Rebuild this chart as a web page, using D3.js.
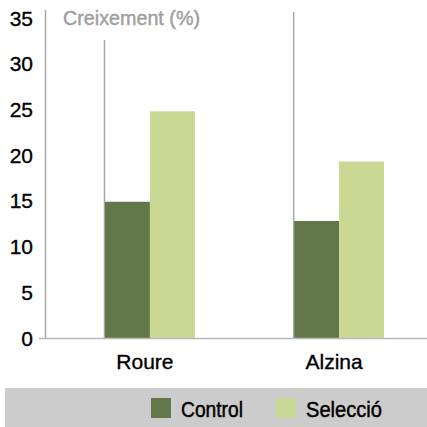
<!DOCTYPE html>
<html>
<head>
<meta charset="utf-8">
<script src="https://cdn.jsdelivr.net/npm/d3@7"></script>
<style>
  html, body { margin: 0; padding: 0; background: #fff; }
  svg { display: block; }
  .num { font-family: "Liberation Sans", Arial, sans-serif; font-size: 21px; fill: #000; stroke: #000; stroke-width: 0.35px; }
  .cond { font-family: "Liberation Sans Narrow", "Liberation Sans", sans-serif; stroke-width: 0.45px; }
</style>
</head>
<body>
<script>
// Chart data
const categories = ['Roure', 'Alzina'];
const seriesNames = ['Control', 'Selecció'];
const controlValues = [14.9, 12.8];
const seleccioValues = [24.8, 19.3];
const yTicks = [0, 5, 10, 15, 20, 25, 30, 35];
const colors = ['#62784a', '#c9d994'];

document.addEventListener('DOMContentLoaded', () => {
  drawChart();
});

const drawChart = () => {
  const width = 427, height = 427;
  const svg = d3.select('body').append('svg')
    .attr('width', width).attr('height', height);

  const yScale = d3.scaleLinear().domain([0, 35]).range([338, 18]);

  const xScale = d3.scaleBand()
    .domain(categories)
    .range([104, 383])
    .paddingInner(0.525)
    .paddingOuter(0);

  const xInner = d3.scaleBand()
    .domain(seriesNames)
    .range([0, xScale.bandwidth()]);

  // left axis line
  svg.append('line')
    .attr('x1', 45.5).attr('x2', 45.5)
    .attr('y1', 10).attr('y2', yScale(0))
    .attr('stroke', '#a8a8a8').attr('stroke-width', 1.5);

  // category separator lines
  const sepTop = { 'Roure': 40, 'Alzina': 12 };
  svg.append('g').selectAll('line')
    .data(categories).enter().append('line')
    .attr('x1', d => xScale(d) + 0.5).attr('x2', d => xScale(d) + 0.5)
    .attr('y1', d => sepTop[d]).attr('y2', yScale(0))
    .attr('stroke', '#a8a8a8').attr('stroke-width', 1.5);

  // bars
  const rows = categories.map((c, i) => ({ cat: c, vals: [controlValues[i], seleccioValues[i]] }));
  const groups = svg.append('g').selectAll('g')
    .data(rows).enter().append('g')
    .attr('transform', d => `translate(${xScale(d.cat) + 1},0)`);

  groups.selectAll('rect')
    .data(d => d.vals.map((v, j) => ({ name: seriesNames[j], v: v, j: j })))
    .enter().append('rect')
    .attr('x', d => xInner(d.name))
    .attr('y', d => yScale(d.v))
    .attr('width', xInner.bandwidth())
    .attr('height', d => yScale(0) - yScale(d.v))
    .attr('fill', d => colors[d.j]);

  // baseline
  svg.append('line')
    .attr('x1', 39).attr('x2', width)
    .attr('y1', yScale(0) + 0.5).attr('y2', yScale(0) + 0.5)
    .attr('stroke', '#b8b8b8').attr('stroke-width', 1.5);

  // y tick labels
  svg.append('g').selectAll('text')
    .data(yTicks).enter().append('text')
    .attr('class', 'num')
    .attr('x', 33)
    .attr('y', d => yScale(d))
    .attr('dy', '0.36em')
    .attr('text-anchor', 'end')
    .text(d => d);

  // title
  svg.append('text')
    .attr('class', 'cond')
    .attr('x', 63).attr('y', 25)
    .attr('font-size', 21)
    .attr('fill', '#9e9e9e').attr('stroke', '#9e9e9e')
    .attr('textLength', 137)
    .attr('lengthAdjust', 'spacingAndGlyphs')
    .text('Creixement (%)');

  // category labels
  svg.append('g').selectAll('text')
    .data(categories).enter().append('text')
    .attr('class', 'num')
    .attr('x', d => xScale(d) + xScale.bandwidth() / 2 - 4)
    .attr('y', 369)
    .attr('text-anchor', 'middle')
    .attr('font-size', 21)
    .text(d => d);

  // legend band
  svg.append('rect')
    .attr('x', 5).attr('y', 388)
    .attr('width', width - 5).attr('height', height - 388)
    .attr('fill', '#cccccc');

  const legendX = [151, 276];
  const legendLen = [62, 76];
  const legend = svg.append('g').selectAll('g')
    .data(seriesNames).enter().append('g')
    .attr('transform', (d, i) => `translate(${legendX[i]},398)`);

  legend.append('rect')
    .attr('width', 20).attr('height', 20)
    .attr('fill', (d, i) => colors[i]);

  legend.append('text')
    .attr('class', 'cond')
    .attr('x', 30).attr('y', 19)
    .attr('font-size', 22)
    .attr('fill', '#000').attr('stroke', '#000')
    .attr('textLength', (d, i) => legendLen[i])
    .attr('lengthAdjust', 'spacingAndGlyphs')
    .text(d => d);
};
</script>
</body>
</html>
